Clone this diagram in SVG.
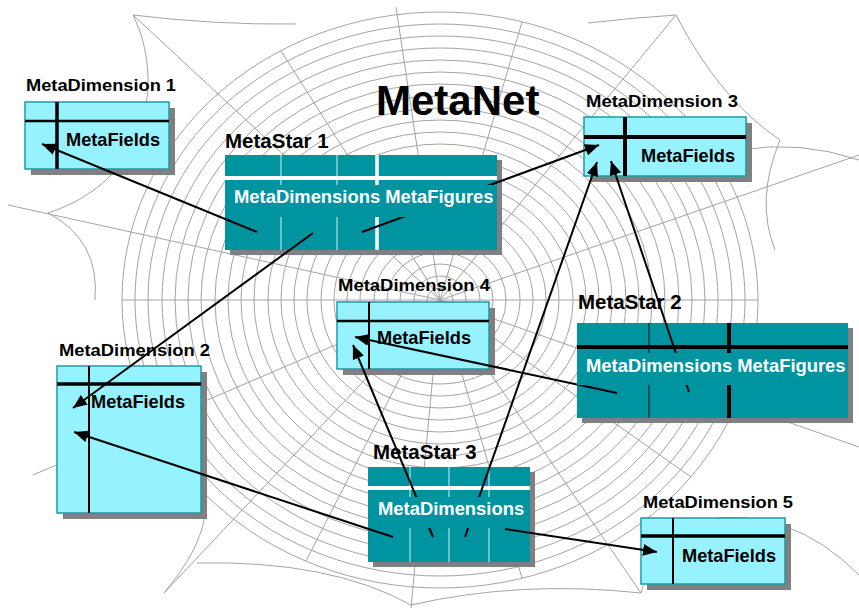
<svg xmlns="http://www.w3.org/2000/svg" width="859" height="609" viewBox="0 0 859 609">
<defs>
<style>
.web{fill:none;stroke:#a3a3a3;stroke-width:1}
.md{fill:#96f2ff;stroke:#1b9aa5;stroke-width:1.5}
.ms{fill:#0094a0}
.sh{fill:#808080}
.lbl{font-family:"Liberation Sans",Arial,sans-serif;font-weight:bold;fill:#000}
.wt{font-family:"Liberation Sans",Arial,sans-serif;font-weight:bold;fill:#fff;font-size:18.4px}
.blk{stroke:#000;fill:none}
.lt{stroke:#8fd3d8;stroke-width:1.5}
.con{stroke:#000;stroke-width:2;fill:none;marker-end:url(#ah)}
</style>
<marker id="ah" markerWidth="14" markerHeight="12" refX="14" refY="6" orient="auto" markerUnits="userSpaceOnUse"><path d="M0,0 L14,6 L0,12 z" fill="#000"/></marker>
</defs>
<rect width="859" height="609" fill="#fff"/>
<g id="web" class="web">
<ellipse cx="440" cy="300" rx="13" ry="12"/>
<ellipse cx="440" cy="300" rx="26" ry="24"/>
<ellipse cx="440" cy="300" rx="40" ry="36"/>
<ellipse cx="440" cy="300" rx="53" ry="48"/>
<ellipse cx="440" cy="300" rx="66" ry="60"/>
<ellipse cx="440" cy="300" rx="80" ry="72"/>
<ellipse cx="440" cy="300" rx="93" ry="84"/>
<ellipse cx="440" cy="300" rx="106" ry="96"/>
<ellipse cx="440" cy="300" rx="119" ry="108"/>
<ellipse cx="440" cy="300" rx="133" ry="120"/>
<ellipse cx="440" cy="300" rx="146" ry="132"/>
<ellipse cx="440" cy="300" rx="159" ry="144"/>
<ellipse cx="440" cy="300" rx="172" ry="156"/>
<ellipse cx="440" cy="300" rx="186" ry="168"/>
<ellipse cx="440" cy="300" rx="199" ry="180"/>
<ellipse cx="440" cy="300" rx="212" ry="192"/>
<ellipse cx="440" cy="300" rx="225" ry="204"/>
<ellipse cx="440" cy="300" rx="239" ry="216"/>
<ellipse cx="440" cy="300" rx="252" ry="228"/>
<ellipse cx="440" cy="300" rx="265" ry="240"/>
<ellipse cx="440" cy="300" rx="278" ry="252"/>
<ellipse cx="440" cy="300" rx="292" ry="264"/>
<ellipse cx="440" cy="300" rx="305" ry="276"/>
<ellipse cx="440" cy="300" rx="318" ry="288"/>
<path d="M440,300 L396,7 M440,300 L133,15 M440,300 L676,15 M440,300 L8,205 M440,300 L33,475 M440,300 L164,593 M440,300 L411,608 M440,300 L641,593 M440,300 L859,447 M440,300 L859,155 M440,300 L522,22 M440,300 L281,51 M440,300 L758,300 M440,300 L522,578 M440,300 L306,561 M440,300 L122,300 M440,300 L691,477"/>
<path d="M133,15 Q215,25 296,24 M588,23 Q630,18 676,15 M133,15 C165,80 150,180 48,213 M48,213 Q100,240 95,300 M197,563 Q330,560 411,605 Q520,580 641,593 M641,593 Q655,535 700,520 Q790,505 859,575 M676,15 Q720,100 780,140 M740,150 Q800,140 859,160 M780,140 Q755,200 775,250 M205,515 Q200,550 164,593"/>
</g>
<text id="title" class="lbl" x="376" y="115" font-size="42">MetaNet</text>
<g id="metadimension1">
<rect class="sh" x="31" y="108" width="144" height="67"/>
<rect class="md" x="25" y="102" width="144" height="67"/>
<line class="blk" x1="25" y1="121" x2="169" y2="121" stroke-width="2.5"/>
<line class="blk" x1="57" y1="102" x2="57" y2="169" stroke-width="3.5"/>
<text class="lbl" x="66" y="146" font-size="18.2">MetaFields</text>
<text class="lbl" x="26" y="91" font-size="16" textLength="150" lengthAdjust="spacingAndGlyphs">MetaDimension 1</text>
</g>
<g id="metadimension3">
<rect class="sh" x="590" y="123" width="162" height="59"/>
<rect class="md" x="584" y="117" width="162" height="59"/>
<line class="blk" x1="584" y1="137" x2="746" y2="137" stroke-width="4"/>
<line class="blk" x1="625" y1="117" x2="625" y2="176" stroke-width="4"/>
<text class="lbl" x="641" y="162" font-size="18.2">MetaFields</text>
<text class="lbl" x="586" y="107" font-size="16" textLength="152" lengthAdjust="spacingAndGlyphs">MetaDimension 3</text>
</g>
<g id="metadimension4">
<rect class="sh" x="343" y="308" width="152" height="67"/>
<rect class="md" x="337" y="302" width="152" height="67"/>
<line class="blk" x1="337" y1="321" x2="489" y2="321" stroke-width="2.5"/>
<line class="blk" x1="369" y1="302" x2="369" y2="369" stroke-width="2"/>
<text class="lbl" x="377" y="344" font-size="18.2">MetaFields</text>
<text class="lbl" x="338" y="291" font-size="16" textLength="152" lengthAdjust="spacingAndGlyphs">MetaDimension 4</text>
</g>
<g id="metadimension2">
<rect class="sh" x="63" y="372" width="144" height="147"/>
<rect class="md" x="57" y="366" width="144" height="147"/>
<line class="blk" x1="57" y1="384" x2="201" y2="384" stroke-width="3.5"/>
<line class="blk" x1="89" y1="366" x2="89" y2="513" stroke-width="2"/>
<text class="lbl" x="91" y="408" font-size="18.2">MetaFields</text>
<text class="lbl" x="59" y="356" font-size="16" textLength="151" lengthAdjust="spacingAndGlyphs">MetaDimension 2</text>
</g>
<g id="metadimension5">
<rect class="sh" x="647" y="524" width="144" height="66"/>
<rect class="md" x="641" y="518" width="144" height="66"/>
<line class="blk" x1="641" y1="536" x2="785" y2="536" stroke-width="3.5"/>
<line class="blk" x1="673" y1="518" x2="673" y2="584" stroke-width="2"/>
<text class="lbl" x="682" y="562" font-size="18.2">MetaFields</text>
<text class="lbl" x="643" y="508" font-size="16" textLength="150" lengthAdjust="spacingAndGlyphs">MetaDimension 5</text>
</g>
<g id="metastar1">
<rect class="sh" x="230" y="160" width="272" height="95"/>
<rect class="ms" x="225" y="155" width="272" height="95"/>
<line class="lt" x1="281" y1="155" x2="281" y2="250"/>
<line class="lt" x1="337" y1="155" x2="337" y2="250"/>
<line x1="377" y1="155" x2="377" y2="250" stroke="#fff" stroke-width="3.5"/>
<line x1="225" y1="178" x2="497" y2="178" stroke="#fff" stroke-width="4"/>
<text class="lbl" x="225" y="148" font-size="20.5">MetaStar 1</text>
</g>
<g id="metastar2">
<rect class="sh" x="582" y="328" width="271" height="95"/>
<rect class="ms" x="577" y="323" width="271" height="95"/>
<line x1="649" y1="323" x2="649" y2="418" stroke="#10363a" stroke-width="1.5"/>
<line class="blk" x1="729" y1="323" x2="729" y2="418" stroke-width="4"/>
<line class="blk" x1="577" y1="347" x2="848" y2="347" stroke-width="4"/>
<text class="lbl" x="578" y="309" font-size="20.5">MetaStar 2</text>
</g>
<g id="metastar3">
<rect class="sh" x="373" y="472" width="162" height="95"/>
<rect class="ms" x="368" y="467" width="162" height="95"/>
<line class="lt" x1="410" y1="467" x2="410" y2="562"/>
<line class="lt" x1="449" y1="467" x2="449" y2="562"/>
<line class="lt" x1="489" y1="467" x2="489" y2="562"/>
<line x1="368" y1="488" x2="530" y2="488" stroke="#fff" stroke-width="4"/>
<text class="lbl" x="373" y="459" font-size="20.5">MetaStar 3</text>
</g>
<g id="connectors">
<path class="con" d="M257,232 L42,144"/>
<path class="con" d="M313,233 L73,408"/>
<path class="con" d="M362,232 L599,145"/>
<path class="con" d="M689,392 L611,161"/>
<path class="con" d="M465,537 L597,162"/>
<path class="con" d="M433,537 L353,345"/>
<path class="con" d="M617,393 L355,337"/>
<path class="con" d="M393,537 L74,432"/>
<path class="con" d="M505,529 L657,552"/>
</g>
<g id="metastar1-fields">
<rect class="ms" x="225" y="185" width="272" height="32"/>
<text class="wt" x="234" y="203">MetaDimensions MetaFigures</text>
</g>
<g id="metastar2-fields">
<rect class="ms" x="577" y="353" width="271" height="32"/>
<text class="wt" x="586" y="372">MetaDimensions MetaFigures</text>
</g>
<g id="metastar3-fields">
<rect class="ms" x="368" y="497" width="162" height="31"/>
<text class="wt" x="378" y="515">MetaDimensions</text>
</g>
</svg>
